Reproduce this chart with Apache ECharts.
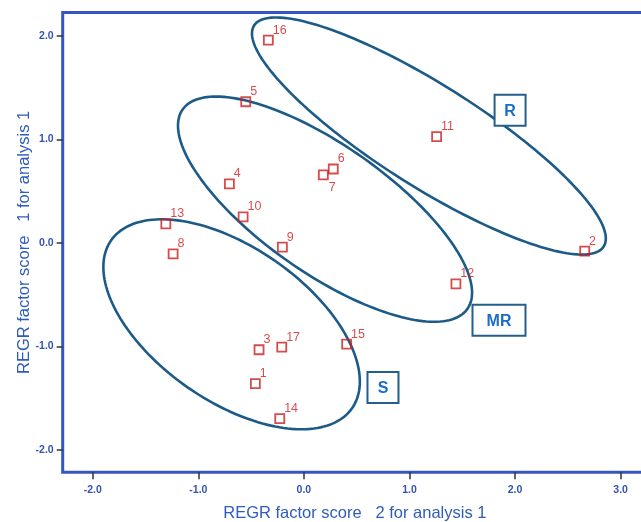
<!DOCTYPE html>
<html><head><meta charset="utf-8">
<script src="https://cdn.jsdelivr.net/npm/echarts@6/dist/echarts.min.js"></script>
<style>html,body{margin:0;padding:0;background:#fff}#c{width:641px;height:522px}</style>
</head><body><div id="c"></div>
<script>
// Case numbers and their factor scores
const caseIds = ['1','2','3','4','5','6','7','8','9','10','11','12','13','14','15','16','17'];
const factor2Scores = [-0.460, 2.660, -0.425, -0.706, -0.551, 0.278, 0.184, -1.239, -0.204, -0.576, 1.257, 1.440, -1.308, -0.229, 0.405, -0.337, -0.210]; // x
const factor1Scores = [-1.361, -0.080, -1.033, 0.569, 1.363, 0.713, 0.656, -0.107, -0.042, 0.250, 1.025, -0.396, 0.183, -1.699, -0.978, 1.958, -1.007]; // y

// Tick labels
const xTicks = [-2, -1, 0, 1, 2, 3];
const yTicks = [-2, -1, 0, 1, 2];

// Groups (ellipses) in data units: centre, major and minor semi-axis vectors
const groupNames = ['R', 'MR', 'S'];
const ellipseCX = [1.184, 0.200, -0.685];
const ellipseCY = [1.032, 0.325, -0.787];
const ellipseMajor = [[1.656, -1.067], [1.349, -0.963], [1.141, -0.811]];
const ellipseMinor = [[-0.258, -0.416], [-0.347, -0.506], [-0.417, -0.609]];
// Group label box positions (data units)
const groupLabelX = [1.953, 1.848, 0.749];
const groupLabelY = [1.280, -0.748, -1.398];

const FONT = '"Liberation Sans", Arial, sans-serif';
const chart = echarts.init(document.getElementById('c'), null, {renderer: 'canvas'});

const pointData = caseIds.map((id, i) => {
  const item = {value: [factor2Scores[i], factor1Scores[i]], name: id};
  if (id === '7') item.label = {offset: [0, 13]};
  return item;
});

chart.setOption({
  backgroundColor: '#fff',
  animation: false,
  grid: {left: 62.7, top: 12.5, right: -6, bottom: 49.7, show: true, containLabel: false,
         outerBoundsMode: 'none',
         borderColor: '#3556c2', borderWidth: 3, backgroundColor: '#fff'},
  xAxis: {
    type: 'value', min: -2.285, max: 3.25,
    name: 'REGR factor score   2 for analysis 1', nameLocation: 'middle', nameGap: 33, nameMoveOverlap: false,
    nameTextStyle: {color: '#2f5cbc', fontSize: 16.5, fontFamily: FONT},
    axisLine: {show: false, onZero: false},
    axisTick: {show: true, length: 7, customValues: xTicks, lineStyle: {color: '#333', width: 1.5}},
    axisLabel: {customValues: xTicks, margin: 12, color: '#3353b5', fontWeight: 'bold', fontSize: 10.5, fontFamily: FONT,
                formatter: v => v.toFixed(1)},
    splitLine: {show: false}
  },
  yAxis: {
    type: 'value', min: -2.217, max: 2.225,
    name: 'REGR factor score   1 for analysis 1', nameLocation: 'middle', nameGap: 30, nameRotate: 90, nameMoveOverlap: false,
    nameTextStyle: {color: '#2f5cbc', fontSize: 16.5, fontFamily: FONT},
    axisLine: {show: false, onZero: false},
    axisTick: {show: true, length: 6, customValues: yTicks, lineStyle: {color: '#333', width: 1.5}},
    axisLabel: {customValues: yTicks, margin: 9, color: '#3353b5', fontWeight: 'bold', fontSize: 10.5, fontFamily: FONT,
                formatter: v => v.toFixed(1)},
    splitLine: {show: false}
  },
  series: [
    {
      type: 'custom', silent: true, z: 2,
      data: groupNames.map((n, i) => [ellipseCX[i], ellipseCY[i], i]),
      encode: {x: 0, y: 1},
      renderItem: function (params, api) {
        const i = api.value(2);
        const pts = [];
        const N = 180;
        for (let k = 0; k <= N; k++) {
          const t = 2 * Math.PI * k / N;
          const c = Math.cos(t), s = Math.sin(t);
          pts.push(api.coord([
            ellipseCX[i] + c * ellipseMajor[i][0] + s * ellipseMinor[i][0],
            ellipseCY[i] + c * ellipseMajor[i][1] + s * ellipseMinor[i][1]
          ]));
        }
        return {type: 'polygon', shape: {points: pts},
                style: {fill: 'none', stroke: '#1c5b87', lineWidth: 2.6}};
      }
    },
    {
      type: 'custom', silent: true, z: 4,
      data: groupNames.map((n, i) => [groupLabelX[i], groupLabelY[i], i]),
      encode: {x: 0, y: 1},
      renderItem: function (params, api) {
        const p = api.coord([api.value(0), api.value(1)]);
        const name = groupNames[api.value(2)];
        const w = name.length > 1 ? 53 : 31, h = 31;
        return {type: 'group', children: [
          {type: 'rect', shape: {x: p[0] - w / 2, y: p[1] - h / 2, width: w, height: h},
           style: {fill: '#fff', stroke: '#245e8a', lineWidth: 2}},
          {type: 'text', style: {text: name, x: p[0], y: p[1] + 1, align: 'center', verticalAlign: 'middle',
            textAlign: 'center', textVerticalAlign: 'middle',
            fill: '#1a6cc8', font: 'bold 16px ' + FONT}}
        ]};
      }
    },
    {
      type: 'scatter', silent: true, z: 3,
      symbol: 'rect', symbolSize: 9,
      data: pointData,
      itemStyle: {color: 'rgba(255,255,255,0)', borderColor: '#cc1f1f', borderWidth: 1.8},
      label: {show: true, formatter: '{b}', position: 'right', distance: 0, offset: [-1, -10],
              color: '#cc1f1f', fontSize: 12.5, fontFamily: FONT}
    }
  ]
});
</script>
</body></html>
